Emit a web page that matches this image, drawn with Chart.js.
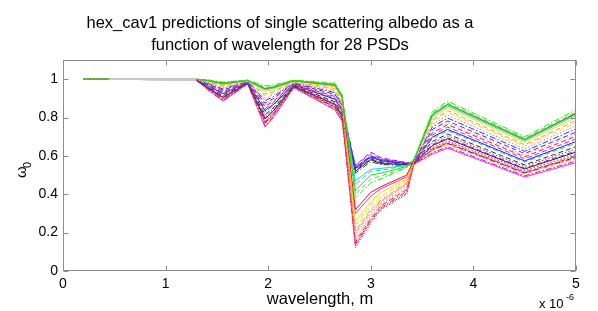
<!DOCTYPE html>
<html>
<head>
<meta charset="utf-8">
<script src="https://cdn.jsdelivr.net/npm/chart.js@4.4.1/dist/chart.umd.min.js"></script>
<style>
html, body { margin: 0; padding: 0; background: #fff; }
</style>
</head>
<body>
<canvas id="albedoChart" width="598" height="311"></canvas>
<script>
// wavelength in units of 1e-6 m
const wavelength = [0.2, 0.45, 1.3, 1.4, 1.56, 1.8, 1.97, 2.05, 2.25, 2.65, 2.72, 2.85, 3.0, 3.1, 3.35, 3.42, 3.6, 3.75, 4.5, 5.0];

// single scattering albedo, one array per PSD
const psd1  = [1, 1, 1, .997, .985, .995, .965, .97, .995, .98, .92, .38, .46, .48, .54, .58, .83, .885, .70, .84];
const psd2  = [1, 1, 1, .994, .979, .994, .952, .96, .993, .972, .912, .42, .50, .51, .545, .579, .817, .87, .687, .824];
const psd3  = [1, 1, 1, .994, .978, .994, .95, .958, .992, .97, .91, .32, .41, .44, .50, .578, .815, .868, .685, .82];
const psd4  = [1, 1, 1, .992, .975, .993, .944, .953, .991, .966, .906, .47, .53, .535, .55, .578, .808, .86, .679, .812];
const psd5  = [1, 1, 1, .99, .971, .992, .935, .946, .989, .96, .90, .26, .36, .41, .48, .577, .799, .851, .671, .80];
const psd6  = [1, 1, 1, .988, .965, .991, .922, .936, .987, .952, .892, .21, .32, .37, .46, .575, .786, .836, .658, .785];
const psd7  = [1, 1, 1, .986, .961, .99, .913, .929, .985, .946, .886, .24, .345, .39, .475, .574, .777, .826, .65, .774];
const psd8  = [1, 1, 1, .983, .955, .989, .90, .919, .983, .938, .878, .19, .30, .36, .45, .573, .764, .812, .637, .758];
const psd9  = [1, 1, 1, .98, .949, .988, .888, .909, .981, .93, .87, .53, .59, .57, .56, .571, .751, .797, .624, .741];
const psd10 = [1, 1, 1, .977, .943, .987, .875, .899, .978, .921, .861, .54, .60, .58, .56, .57, .738, .782, .612, .724];
const psd11 = [1, 1, 1, .975, .939, .986, .866, .892, .977, .916, .856, .16, .28, .345, .43, .569, .729, .772, .603, .714];
const psd12 = [1, 1, 1, .974, .935, .985, .858, .885, .975, .91, .85, .15, .275, .34, .425, .568, .72, .763, .595, .703];
const psd13 = [1, 1, 1, .971, .93, .984, .847, .877, .973, .903, .843, .55, .61, .585, .565, .566, .709, .75, .585, .689];
const psd14 = [1, 1, 1, .969, .925, .983, .836, .868, .971, .896, .836, .535, .595, .575, .56, .565, .698, .738, .574, .675];
const psd15 = [1, 1, 1, .967, .922, .982, .83, .863, .97, .892, .832, .45, .52, .525, .55, .564, .691, .731, .568, .667];
const psd16 = [1, 1, 1, .995, .981, .994, .956, .963, .993, .974, .914, .40, .48, .495, .54, .579, .821, .875, .692, .829];
const psd17 = [1, 1, 1, .964, .915, .981, .815, .851, .967, .882, .822, .525, .585, .565, .555, .563, .676, .714, .553, .648];
const psd18 = [1, 1, 1, .962, .911, .98, .806, .844, .965, .876, .816, .13, .26, .325, .405, .562, .667, .704, .545, .637];
const psd19 = [1, 1, .995, .96, .907, .979, .797, .837, .964, .871, .811, .55, .62, .59, .565, .561, .658, .694, .536, .626];
const psd20 = [1, 1, .995, .959, .905, .979, .793, .834, .963, .868, .808, .52, .58, .56, .555, .56, .654, .689, .532, .62];
const psd21 = [1, 1, .995, .958, .901, .978, .784, .827, .961, .862, .802, .12, .25, .32, .40, .559, .645, .679, .524, .609];
const psd22 = [1, 1, .995, .957, .899, .978, .78, .824, .961, .86, .80, .17, .29, .35, .44, .559, .641, .674, .519, .604];
const psd23 = [1, 1, .995, .956, .897, .977, .776, .82, .96, .857, .797, .14, .265, .33, .415, .558, .636, .669, .515, .598];
const psd24 = [1, 1, .995, .955, .895, .977, .772, .817, .959, .854, .794, .51, .57, .555, .55, .558, .632, .665, .511, .593];
const psd25 = [1, 1, .995, .954, .893, .977, .767, .814, .958, .851, .791, .20, .31, .365, .455, .557, .628, .66, .507, .587];
const psd26 = [1, 1, .995, .953, .891, .976, .763, .81, .957, .848, .788, .23, .335, .38, .47, .557, .623, .655, .503, .582];
const psd27 = [1, 1, .995, .951, .888, .976, .756, .805, .956, .844, .784, .54, .60, .58, .56, .556, .617, .647, .496, .573];
const psd28 = [1, 1, .995, .95, .885, .975, .75, .80, .955, .84, .78, .30, .39, .43, .49, .555, .61, .64, .49, .565];

const psds = [psd1, psd2, psd3, psd4, psd5, psd6, psd7, psd8, psd9, psd10, psd11, psd12, psd13, psd14,
              psd15, psd16, psd17, psd18, psd19, psd20, psd21, psd22, psd23, psd24, psd25, psd26, psd27, psd28];

// line colour / style per PSD
const dash = { solid: [], dashed: [5, 3], dotted: [1.5, 2], dashdot: [6, 2, 1.5, 2] };
const styles = [
    ["#22e622", "dashdot"], ["#22dd22", "solid"], ["#ee1111", "solid"], ["#11dddd", "solid"],
    ["#e6e600", "solid"], ["#ff9933", "dashed"], ["#eedd22", "dashed"], ["#ff7777", "dotted"],
    ["#3333ee", "dashdot"], ["#3333ee", "dashed"], ["#ff88cc", "dotted"], ["#ee2222", "dashed"],
    ["#ee11ee", "dashed"], ["#2222dd", "solid"], ["#11cccc", "dashed"], ["#33ee33", "dashed"],
    ["#333333", "dashed"], ["#ee1111", "dotted"], ["#8811ee", "dashed"], ["#222222", "solid"],
    ["#ee11ee", "dotted"], ["#ff9933", "dotted"], ["#ee2222", "dashdot"], ["#333333", "dashdot"],
    ["#ff88cc", "dashed"], ["#e6e600", "dotted"], ["#cc11cc", "dashdot"], ["#ff22ff", "solid"],
];

const fontFamily = '"Liberation Sans", Arial, sans-serif';

const datasets = psds.map((vals, i) => ({
    label: "PSD " + (i + 1),
    data: wavelength.map((w, j) => ({ x: w, y: vals[j] })),
    borderColor: styles[i][0],
    borderDash: dash[styles[i][1]],
    borderWidth: 1,
    pointRadius: 0,
    tension: 0,
    segment: {
        borderColor: c => (c.p0.parsed.x >= 0.45 && c.p1.parsed.x <= 1.3) ? "#c8c8c8" : undefined,
        borderDash: c => (c.p0.parsed.x >= 0.45 && c.p1.parsed.x <= 1.3) ? [] : undefined,
    },
}));

// MATLAB style box, inward ticks and text
const matlabFrame = {
    id: "matlabFrame",
    afterDraw(chart) {
        const { ctx, chartArea: a, scales: { x, y } } = chart;
        ctx.save();
        ctx.strokeStyle = "#8c8c8c";
        ctx.lineWidth = 1;
        const L = Math.round(a.left) + 0.5, R = Math.round(a.right) - 0.5;
        const T = Math.round(a.top) + 0.5, B = Math.round(a.bottom) - 0.5;
        ctx.strokeRect(L, T, R - L, B - T);
        ctx.beginPath();
        x.ticks.forEach(t => {
            const px = Math.round(x.getPixelForValue(t.value)) + 0.5;
            ctx.moveTo(px, B); ctx.lineTo(px, B - 5);
            ctx.moveTo(px, T); ctx.lineTo(px, T + 5);
        });
        y.ticks.forEach(t => {
            const py = Math.round(y.getPixelForValue(t.value)) + 0.5;
            ctx.moveTo(L, py); ctx.lineTo(L + 5, py);
            ctx.moveTo(R, py); ctx.lineTo(R - 5, py);
        });
        ctx.stroke();

        ctx.fillStyle = "#000";
        ctx.textAlign = "center";
        ctx.textBaseline = "alphabetic";
        ctx.font = "16.5px " + fontFamily;
        ctx.fillText("hex_cav1 predictions of single scattering albedo as a", 280, 28);
        ctx.fillText("function of wavelength for 28 PSDs", 280, 50);

        ctx.fillText("wavelength, m", 320, 304);

        ctx.textAlign = "left";
        ctx.font = "13px " + fontFamily;
        ctx.fillText("x 10", 539, 308);
        ctx.font = "9px " + fontFamily;
        ctx.fillText("-6", 566, 300);

        ctx.translate(26, 178);
        ctx.rotate(-Math.PI / 2);
        ctx.font = "15px " + fontFamily;
        ctx.fillText("\u03c9", 0, 0);
        ctx.font = "11px " + fontFamily;
        ctx.fillText("0", 10, 5);
        ctx.restore();
    },
};

const albedoChart = new Chart(document.getElementById("albedoChart"), {
    type: "line",
    data: { datasets },
    options: {
        responsive: false,
        animation: false,
        layout: { padding: { top: 60, right: 22, left: 0, bottom: 0 } },
        plugins: { legend: { display: false }, tooltip: { enabled: false }, title: { display: false } },
        scales: {
            x: {
                type: "linear", min: 0, max: 5,
                afterFit(s) { s.height = 40; },
                grid: { display: false, drawTicks: false },
                border: { display: false },
                ticks: { stepSize: 1, color: "#000", font: { family: fontFamily, size: 14 }, padding: 5, maxRotation: 0 },
            },
            y: {
                type: "linear", min: 0, max: 1.1,
                afterFit(s) { s.width = 63; },
                grid: { display: false, drawTicks: false },
                border: { display: false },
                ticks: {
                    stepSize: 0.2, includeBounds: false, color: "#000",
                    font: { family: fontFamily, size: 14 }, padding: 5,
                    callback: v => String(Number(v.toFixed(2))),
                },
            },
        },
    },
    plugins: [matlabFrame],
});
</script>
</body>
</html>
